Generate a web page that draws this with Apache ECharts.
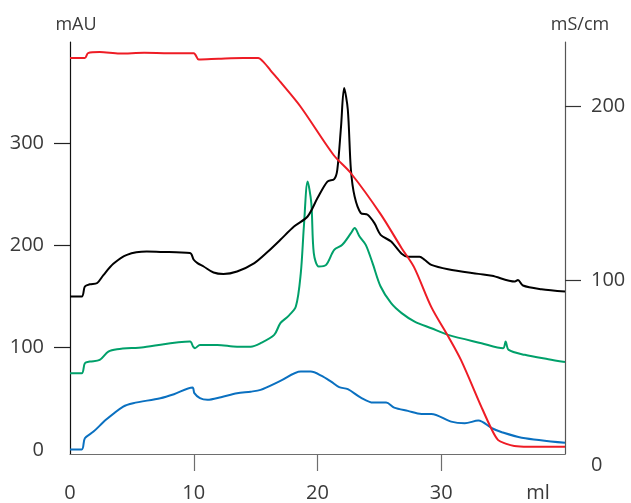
<!DOCTYPE html>
<html>
<head>
<meta charset="utf-8">
<script src="https://cdn.jsdelivr.net/npm/echarts@6/dist/echarts.min.js"></script>
<style>
  html, body { margin: 0; padding: 0; background: #fff; }
  #chart { width: 631px; height: 503px; }
</style>
</head>
<body>
<div id="chart"></div>
<script>
// ---- data (x in ml) ----
const xTicks = [0, 10, 20, 30];
const leftTicks = [0, 100, 200, 300];
const rightTicks = [0, 100, 200];

const redX = [0, 1.2, 1.46, 2.4, 4, 6, 8, 10.0, 10.4, 12, 14, 15.2, 15.7, 16.2, 17.0, 18.65, 21.3, 22.7, 25.1, 26.8, 27.8, 29.2, 30.6, 31.6, 33.25, 34.1, 34.6, 35.2, 35.9, 37, 40];
const redY = [227.8, 227.8, 230.6, 231.2, 230.4, 230.8, 230.6, 230.6, 227, 227.4, 227.8, 227.8, 225, 220.7, 214, 199.6, 172, 161.5, 138, 118.4, 107.5, 84.5, 67.2, 54, 27, 13.8, 8, 6, 4.6, 4.2, 4.2];

const blackX = [0, 0.95, 1.2, 1.6, 2.2, 2.7, 3.5, 4.6, 6.2, 7.3, 9.7, 10.0, 10.3, 10.8, 11.6, 12.4, 13.5, 14.9, 16.0, 17.0, 18.1, 19.2, 20.0, 20.8, 21.35, 21.6, 21.9, 22.15, 22.45, 22.7, 23.0, 23.5, 24.05, 24.6, 25.1, 25.95, 26.8, 27.3, 28.25, 28.65, 29.2, 30.55, 33.0, 34.1, 35.95, 36.2, 36.6, 38.1, 40];
const blackY = [150, 150, 159.8, 162, 163.3, 171, 182, 190.8, 194, 193.7, 192.5, 186, 182.7, 179.4, 173.5, 172, 174.5, 182.7, 194, 205.5, 218.5, 228.3, 246.3, 262.5, 264.9, 274, 316, 354, 332.7, 274, 247.8, 231.6, 230, 221.8, 210.4, 203.8, 191.8, 189, 189, 186, 181, 176.8, 172.2, 170.3, 164.7, 166.3, 160.8, 157.2, 155];

const greenX = [0, 0.95, 1.2, 1.6, 2.4, 3.1, 3.8, 5.95, 9.7, 9.95, 10.1, 10.5, 11.9, 13.5, 14.6, 15.4, 16.5, 17.0, 17.6, 18.25, 18.65, 18.9, 19.2, 19.5, 19.7, 20.1, 20.7, 21.35, 22.0, 22.7, 23.0, 23.4, 23.9, 24.45, 25.1, 25.95, 26.8, 27.85, 29.2, 30.55, 33.25, 35.0, 35.2, 35.45, 36.75, 38.65, 40];
const greenY = [75, 75, 84.8, 86.4, 88, 96.2, 98.5, 100.5, 106, 101, 99.5, 102.7, 102.7, 101, 101, 104.4, 112.5, 124, 130.4, 140.2, 172.9, 218.5, 262.5, 241.4, 192.5, 179.4, 181, 195.7, 200.6, 212, 217, 208.7, 200.6, 182.7, 159.8, 143.5, 133.8, 125.5, 119, 112.5, 104.4, 99.5, 106, 97.8, 93, 88.7, 86];

const blueX = [0, 0.95, 1.2, 1.9, 2.9, 4.3, 5.1, 7.3, 8.4, 9.9, 10.05, 10.5, 11.1, 12.2, 13.5, 14.6, 15.4, 17.0, 18.65, 19.45, 20.3, 21.1, 21.75, 22.45, 23.5, 24.5, 25.55, 26.2, 27.3, 28.4, 29.2, 30.8, 31.9, 33.0, 34.1, 34.9, 36.5, 40];
const blueY = [0.5, 0.5, 11.4, 17.9, 29.4, 42.4, 45.7, 50.6, 54.5, 61, 55.5, 50.6, 49, 51.6, 55.5, 57, 58.7, 67.5, 76.6, 76.6, 72.7, 66.8, 61.4, 59.4, 51.2, 46.3, 46.3, 41.4, 38.2, 35.2, 35.2, 27.7, 26.1, 28.7, 21.2, 17.3, 12, 7];

function zip(xs, ys) { return xs.map((x, i) => [x, ys[i]]); }

const FONT = '"Open Sans", "Noto Sans", sans-serif';
const TXT = '#3a3a3a';

const chart = echarts.init(document.getElementById('chart'), null, { renderer: 'canvas' });
chart.setOption({
  animation: false,
  backgroundColor: '#ffffff',
  grid: { left: 70, right: 66, top: 42, bottom: 49, containLabel: false },
  xAxis: {
    type: 'value', min: 0, max: 40,
    name: 'ml', nameLocation: 'end', nameGap: -27,
    nameTextStyle: { fontFamily: FONT, fontSize: 20, color: TXT, align: 'center', verticalAlign: 'top', lineHeight: 20, padding: [29, 0, 0, 0] },
    axisLine: { show: true, onZero: false, lineStyle: { color: '#6e6e6e', width: 1.2 } },
    axisTick: { show: true, inside: false, length: 17, customValues: [10, 20, 30], lineStyle: { color: '#6e6e6e', width: 1.2 } },
    axisLabel: { customValues: xTicks, margin: 29, fontFamily: FONT, fontSize: 20, color: TXT, verticalAlign: 'top', lineHeight: 20 },
    splitLine: { show: false }
  },
  yAxis: [
    {
      type: 'value', min: -4, max: 399, position: 'left',
      name: 'mAU', nameLocation: 'end', nameGap: 8,
      nameTextStyle: { fontFamily: FONT, fontSize: 18, color: TXT, padding: [0, 0, 0, 12] },
      axisLine: { show: true, onZero: false, lineStyle: { color: '#111', width: 1.2 } },
      axisTick: { show: true, length: 16, customValues: [100, 200, 300], lineStyle: { color: '#222', width: 1.2 } },
      axisLabel: { customValues: leftTicks, margin: 26, fontFamily: FONT, fontSize: 20, color: TXT },
      splitLine: { show: false }
    },
    {
      type: 'value', min: 0, max: 237, position: 'right',
      name: 'mS/cm', nameLocation: 'end', nameGap: 8,
      nameTextStyle: { fontFamily: FONT, fontSize: 18, color: TXT, padding: [0, 0, 0, 30] },
      axisLine: { show: true, onZero: false, lineStyle: { color: '#555', width: 1.2 } },
      axisTick: { show: true, length: 16, customValues: [100, 200], lineStyle: { color: '#333', width: 1.2 } },
      axisLabel: {
        customValues: rightTicks, margin: 26, fontFamily: FONT, fontSize: 20, color: TXT,
        formatter: function (v) { return v === 0 ? '{z|0}' : String(v); },
        rich: { z: { fontFamily: FONT, fontSize: 20, color: TXT, padding: [22, 0, 0, 0] } }
      },
      splitLine: { show: false }
    }
  ],
  series: [
    { name: 'blue', type: 'line', yAxisIndex: 0, data: zip(blueX, blueY), smooth: 0.3, showSymbol: false, lineStyle: { color: '#0a70c0', width: 2 }, z: 2 },
    { name: 'green', type: 'line', yAxisIndex: 0, data: zip(greenX, greenY), smooth: 0.3, showSymbol: false, lineStyle: { color: '#00a06a', width: 2 }, z: 3 },
    { name: 'black', type: 'line', yAxisIndex: 0, data: zip(blackX, blackY), smooth: 0.3, showSymbol: false, lineStyle: { color: '#000000', width: 2 }, z: 4 },
    { name: 'red', type: 'line', yAxisIndex: 1, data: zip(redX, redY), smooth: 0.3, showSymbol: false, lineStyle: { color: '#ee1c25', width: 2 }, z: 5 }
  ]
});
</script>
</body>
</html>
